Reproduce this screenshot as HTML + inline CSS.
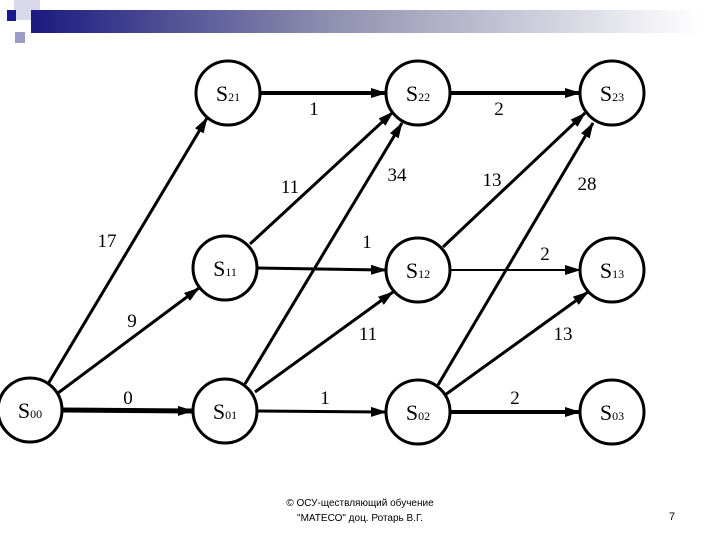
<!DOCTYPE html>
<html><head><meta charset="utf-8"><style>
body{margin:0;width:720px;height:540px;background:#fff;overflow:hidden;position:relative;font-family:"Liberation Sans",sans-serif}
</style></head><body>
<svg width="720" height="540" style="position:absolute;left:0;top:0">
<defs>
<linearGradient id="g" x1="0" x2="1"><stop offset="0" stop-color="#1a1a80"/><stop offset="0.45" stop-color="#9090b0"/><stop offset="1" stop-color="#fff"/></linearGradient>
<marker id="a" markerWidth="16" markerHeight="10" refX="15" refY="5" orient="auto" markerUnits="userSpaceOnUse"><path d="M0,0 L16,5 L0,10 Z" fill="#000"/></marker>
</defs>
<rect x="14" y="0" width="26" height="20" fill="#d8d8ea"/>
<rect x="15" y="32" width="10" height="11" fill="#9c9cc8"/>
<rect x="31" y="10" width="670" height="23" fill="url(#g)"/>
<rect x="7" y="10" width="9" height="11" fill="#1a1a90"/>
<g stroke="#000" stroke-width="3" fill="none" marker-end="url(#a)">
<line x1="260" y1="93" x2="386" y2="93" stroke-width="4"/>
<line x1="450" y1="93" x2="580" y2="93" stroke-width="4"/>
<line x1="48" y1="384" x2="207" y2="118"/>
<line x1="58" y1="393" x2="199" y2="288"/>
<line x1="62" y1="410" x2="193" y2="411" stroke-width="5"/>
<line x1="250" y1="244" x2="393" y2="112"/>
<line x1="245" y1="384" x2="402" y2="123"/>
<line x1="257" y1="268" x2="386" y2="270"/>
<line x1="255" y1="392" x2="393" y2="292"/>
<line x1="257" y1="411" x2="386" y2="412"/>
<line x1="443" y1="247" x2="585" y2="113"/>
<line x1="438" y1="385" x2="593" y2="123"/>
<line x1="450" y1="270" x2="580" y2="270" stroke-width="2"/>
<line x1="445" y1="395" x2="588" y2="292"/>
<line x1="450" y1="412" x2="580" y2="412" stroke-width="4"/>
</g>
<g stroke="#000" stroke-width="3" fill="#fff">
<circle cx="228" cy="93" r="32"/><circle cx="418" cy="93" r="32"/><circle cx="612" cy="93" r="32"/>
<circle cx="225" cy="268" r="32"/><circle cx="418" cy="270" r="32"/><circle cx="612" cy="270" r="32"/>
<circle cx="30" cy="410" r="32"/><circle cx="225" cy="411" r="32"/><circle cx="418" cy="412" r="32"/><circle cx="612" cy="412" r="32"/>
</g>
<g font-family="Liberation Serif,serif" font-size="22" text-anchor="middle">
<text x="228" y="101">S<tspan font-size="12">21</tspan></text>
<text x="418" y="101">S<tspan font-size="12">22</tspan></text>
<text x="612" y="101">S<tspan font-size="12">23</tspan></text>
<text x="225" y="276">S<tspan font-size="12">11</tspan></text>
<text x="418" y="278">S<tspan font-size="12">12</tspan></text>
<text x="612" y="278">S<tspan font-size="12">13</tspan></text>
<text x="30" y="418">S<tspan font-size="12">00</tspan></text>
<text x="225" y="419">S<tspan font-size="12">01</tspan></text>
<text x="418" y="420">S<tspan font-size="12">02</tspan></text>
<text x="612" y="420">S<tspan font-size="12">03</tspan></text>
</g>
<g font-family="Liberation Serif,serif" font-size="19" text-anchor="middle">
<text x="314" y="115">1</text><text x="499" y="115">2</text>
<text x="107" y="247">17</text><text x="132" y="327">9</text><text x="128" y="404">0</text>
<text x="290" y="193">11</text><text x="397" y="181">34</text>
<text x="367" y="248">1</text><text x="492" y="186">13</text><text x="587" y="190">28</text>
<text x="545" y="260">2</text><text x="368" y="340">11</text><text x="563" y="340">13</text>
<text x="325" y="404">1</text><text x="515" y="404">2</text>
</g>
<text x="360" y="506" font-size="10" text-anchor="middle">© ОСУ-ществляющий обучение</text>
<text x="360" y="521" font-size="10" text-anchor="middle">"МАТЕСО" доц. Ротарь В.Г.</text>
<text x="672" y="520" font-size="11" text-anchor="middle">7</text>
</svg>
</body></html>
